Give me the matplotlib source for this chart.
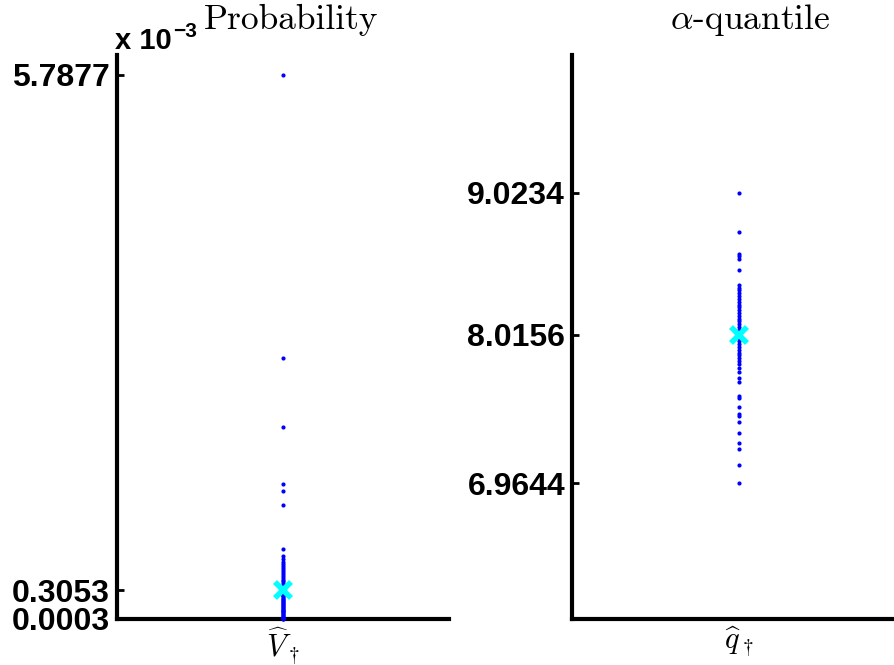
import numpy as np
import matplotlib
matplotlib.use("Agg")
import matplotlib.pyplot as plt

plt.rcParams["mathtext.fontset"] = "cm"

# left panel, values in units of 1e-3
prob_vals = [5.7877, 2.78, 2.04, 1.44, 1.36, 1.21, 0.75, 0.67, 0.64, 0.61,
             0.58, 0.56, 0.54, 0.52, 0.50, 0.48, 0.46, 0.44, 0.42, 0.40,
             0.38, 0.36, 0.34, 0.32, 0.30, 0.28, 0.26, 0.25, 0.24, 0.22,
             0.21, 0.20, 0.19, 0.18, 0.17, 0.16, 0.15, 0.14, 0.13, 0.12,
             0.11, 0.10, 0.09, 0.08, 0.07, 0.06, 0.05, 0.04, 0.03, 0.02,
             0.015, 0.01, 0.005, 0.0003]
prob_mean = 0.3053
prob_ticks = [0.0003, 0.3053, 5.7877]

# right panel
quant_vals = [9.0234, 8.748, 8.589, 8.573, 8.554, 8.472, 8.37, 8.35, 8.33, 8.31,
              8.29, 8.27, 8.25, 8.23, 8.21, 8.19, 8.17, 8.15, 8.13, 8.11,
              8.09, 8.07, 8.05, 8.03, 8.01, 7.99, 7.97, 7.95, 7.93, 7.91,
              7.89, 7.87, 7.85, 7.83, 7.81, 7.78, 7.75, 7.71, 7.68, 7.579,
              7.57, 7.504, 7.457, 7.439, 7.399, 7.322, 7.245, 7.205, 7.095, 6.9644]
quant_mean = 8.0156
quant_ticks = [6.9644, 8.0156, 9.0234]

W, H = 894, 665
fig = plt.figure(figsize=(W / 100, H / 100), dpi=100)
ax1 = fig.add_axes([117 / W, 1 - 619 / H, 332 / W, (619 - 55) / H])
ax2 = fig.add_axes([572 / W, 1 - 619 / H, 334 / W, (619 - 55) / H])

tick_font = dict(family="Liberation Sans", weight="bold", size=23)

panels = [
    (ax1, prob_vals, prob_mean, prob_ticks, (0, 6), r"$\widehat{V}_\dagger$"),
    (ax2, quant_vals, quant_mean, quant_ticks, (6, 10), r"$\widehat{q}_\dagger$"),
]
for ax, vals, mean, ticks, ylim, xlab in panels:
    ax.plot(np.ones(len(vals)), vals, "o", color="blue", ms=3, mew=0,
            zorder=5, clip_on=False)
    ax.plot([1], [mean], "x", color="cyan", ms=12, mew=4, zorder=6)
    ax.set_xlim(0.5, 1.5)
    ax.set_ylim(*ylim)
    ax.set_xticks([1])
    ax.set_xticklabels([xlab], fontsize=22)
    ax.set_yticks(ticks)
    ax.set_yticklabels([f"{t:.4f}" for t in ticks], fontdict=tick_font)
    ax.tick_params(axis="y", direction="in", length=5, width=2, pad=5)
    ax.tick_params(axis="x", length=0, pad=4)
    for s in ["top", "right"]:
        ax.spines[s].set_visible(False)
    for s in ["left", "bottom"]:
        ax.spines[s].set_linewidth(3)

fig.text(291 / W, 1 - 29 / H, "Probability", family="cmr10", fontsize=25.5,
         ha="center", va="baseline")
fig.text(750 / W, 1 - 29 / H, r"$\alpha$-quantile", family="cmr10", fontsize=25.5,
         ha="center", va="baseline")
fig.text(115 / W, 1 - 49 / H, "x 10", family="Liberation Sans", weight="bold",
         fontsize=21, va="baseline")
fig.text(173 / W, 1 - 37 / H, "\u22123", family="Liberation Sans", weight="bold",
         fontsize=15, va="baseline")

fig.savefig("out.png", dpi=100)
